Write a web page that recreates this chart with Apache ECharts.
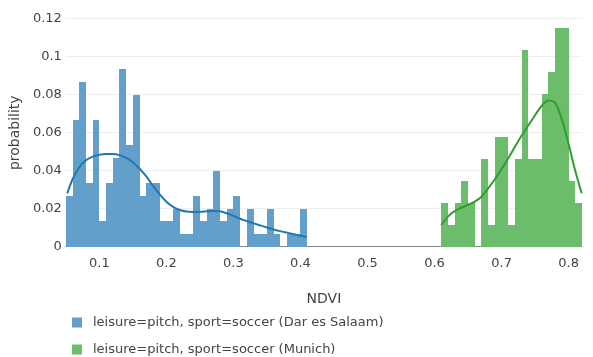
<!DOCTYPE html>
<html>
<head>
<meta charset="utf-8">
<script src="https://cdn.jsdelivr.net/npm/echarts@6/dist/echarts.min.js"></script>
<style>
html,body{margin:0;padding:0;background:#fff;}
#chart{width:593px;height:357px;}
</style>
</head>
<body>
<div id="chart"></div>
<script>
// ---- data ----
const binWidth = 0.01;
const blueBinStarts = [0.05,0.06,0.07,0.08,0.09,0.10,0.11,0.12,0.13,0.14,0.15,0.16,0.17,0.18,0.19,0.20,0.21,0.22,0.23,0.24,0.25,0.26,0.27,0.28,0.29,0.30,0.31,0.32,0.33,0.34,0.35,0.36,0.37,0.38,0.39,0.40];
const blueProb = [0.0267,0.0667,0.0867,0.0333,0.0667,0.0133,0.0333,0.0467,0.0933,0.0533,0.08,0.0267,0.0333,0.0333,0.0133,0.0133,0.02,0.0067,0.0067,0.0267,0.0133,0.02,0.04,0.0133,0.02,0.0267,0,0.02,0.0067,0.0067,0.02,0.0067,0,0.0067,0.0067,0.02];
const greenBinStarts = [0.61,0.62,0.63,0.64,0.65,0.66,0.67,0.68,0.69,0.70,0.71,0.72,0.73,0.74,0.75,0.76,0.77,0.78,0.79,0.80,0.81];
const greenProb = [0.023,0.0115,0.023,0.0345,0.023,0,0.046,0.0115,0.0575,0.0575,0.0115,0.046,0.1034,0.046,0.046,0.0805,0.092,0.1149,0.1149,0.0345,0.023];

const blueKdeX = [0.052,0.06,0.07,0.08,0.09,0.10,0.11,0.12,0.13,0.14,0.15,0.16,0.17,0.18,0.19,0.20,0.21,0.22,0.23,0.24,0.25,0.26,0.27,0.28,0.29,0.30,0.31,0.32,0.33,0.34,0.35,0.36,0.37,0.38,0.39,0.40,0.409];
const blueKdeY = [0.028,0.0355,0.0418,0.0455,0.0474,0.0484,0.0488,0.0488,0.0482,0.0468,0.0445,0.041,0.037,0.032,0.0275,0.0237,0.021,0.0193,0.0185,0.0183,0.0184,0.0186,0.0188,0.0186,0.0176,0.0162,0.0147,0.0135,0.0123,0.0112,0.0101,0.0091,0.0082,0.0074,0.0066,0.0058,0.0051];
const greenKdeX = [0.61,0.62,0.63,0.64,0.65,0.66,0.67,0.68,0.69,0.70,0.71,0.72,0.73,0.74,0.75,0.76,0.77,0.78,0.79,0.80,0.81,0.8195];
const greenKdeY = [0.0114,0.0158,0.0187,0.0205,0.022,0.0237,0.0263,0.0307,0.0355,0.0409,0.0466,0.0526,0.0585,0.0639,0.0692,0.0742,0.077,0.0757,0.0669,0.054,0.0398,0.0281];

const xTicks = [0.1,0.2,0.3,0.4,0.5,0.6,0.7,0.8];
const seriesNames = ['leisure=pitch, sport=soccer (Dar es Salaam)','leisure=pitch, sport=soccer (Munich)'];

// ---- build ----
const FONT = 'DejaVu Sans';
function histData(starts, probs){
  return starts.map((s,i)=>[s, s+binWidth, probs[i]]);
}
function zip(xs, ys){ return xs.map((x,i)=>[x, ys[i]]); }
function renderBar(params, api){
  const x0 = api.value(0), x1 = api.value(1), y = api.value(2);
  if (!(y > 0)) return null;
  const p0 = api.coord([x0, y]);
  const p1 = api.coord([x1, 0]);
  const left = Math.round(p0[0]), right = Math.round(p1[0]);
  const top = Math.round(p0[1]), bottom = Math.round(p1[1]);
  return {type:'rect', shape:{x:left, y:top, width:right-left, height:bottom-top},
          style: {fill: api.visual('color')}};
}
const legendText = {fontFamily:FONT, fontSize:13, color:'#444', padding:[0,0,0,6]};

const chart = echarts.init(document.getElementById('chart'), null, {renderer:'canvas'});
chart.setOption({
  animation:false,
  textStyle:{fontFamily:FONT},
  grid:{left:61, right:11, top:18.7, bottom:110.3},
  legend:[
    {data:[seriesNames[0]], left:72, top:316, padding:0, itemWidth:10, itemHeight:10, icon:'rect', textStyle:legendText},
    {data:[seriesNames[1]], left:72, top:343, padding:0, itemWidth:10, itemHeight:10, icon:'rect', textStyle:legendText}
  ],
  xAxis:{
    type:'value', min:0.05, max:0.82,
    name:'NDVI', nameLocation:'middle', nameGap:46,
    nameTextStyle:{fontFamily:FONT, fontSize:14, color:'#444'},
    axisLine:{show:true, onZero:false, lineStyle:{color:'#888', width:1}},
    axisTick:{show:false},
    splitLine:{show:false},
    axisLabel:{customValues:xTicks, fontFamily:FONT, fontSize:13, color:'#444', margin:10}
  },
  yAxis:{
    type:'value', min:0, max:0.12, interval:0.02,
    name:'probability', nameLocation:'middle', nameGap:32, nameRotate:90,
    nameTextStyle:{fontFamily:FONT, fontSize:14, color:'#444'},
    axisLine:{show:false}, axisTick:{show:false},
    splitLine:{show:true, lineStyle:{color:'#eeeeee', width:1}},
    axisLabel:{fontFamily:FONT, fontSize:13, color:'#444', margin:4}
  },
  series:[
    {name:seriesNames[0], type:'custom', renderItem:renderBar, data:histData(blueBinStarts, blueProb),
     encode:{x:[0,1], y:2}, itemStyle:{color:'rgb(98,160,203)'}},
    {name:seriesNames[1], type:'custom', renderItem:renderBar, data:histData(greenBinStarts, greenProb),
     encode:{x:[0,1], y:2}, itemStyle:{color:'rgb(107,188,107)'}},
    {name:'kde1', type:'line', data:zip(blueKdeX, blueKdeY), smooth:0.3, showSymbol:false, symbol:'none',
     lineStyle:{color:'#1f77b4', width:2}, itemStyle:{color:'#1f77b4'}, z:5},
    {name:'kde2', type:'line', data:zip(greenKdeX, greenKdeY), smooth:0.3, showSymbol:false, symbol:'none',
     lineStyle:{color:'#2ca02c', width:2}, itemStyle:{color:'#2ca02c'}, z:5}
  ]
});
</script>
</body>
</html>
